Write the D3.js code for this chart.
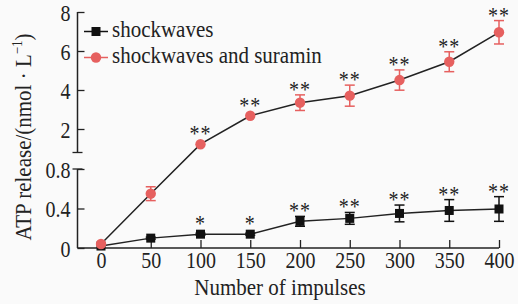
<!DOCTYPE html>
<html>
<head>
<meta charset="utf-8">
<script src="https://cdn.jsdelivr.net/npm/d3@7"></script>
<style>
  body { margin: 0; background: #fff; }
  svg text { font-family: "Liberation Serif", "DejaVu Serif", serif; fill: #222; }
</style>
</head>
<body>
<div id="chart"></div>
<script>
// data
const impulses = [0, 50, 100, 150, 200, 250, 300, 350, 400];
const shockwaves = [0.02, 0.10, 0.14, 0.14, 0.27, 0.30, 0.35, 0.38, 0.395];
const shockwavesErr = [0, 0.01, 0.01, 0.01, 0.05, 0.06, 0.085, 0.11, 0.125];
const shockwavesStars = ["", "", "*", "*", "**", "**", "**", "**", "**"];
const suramin = [0.04, 0.55, 1.22, 2.68, 3.35, 3.71, 4.51, 5.45, 6.96];
const suraminErr = [0, 0.07, 0, 0, 0.4, 0.54, 0.52, 0.51, 0.6];
const suraminStars = ["", "", "**", "**", "**", "**", "**", "**", "**"];
const lowerTicks = [0, 0.4, 0.8];
const upperTicks = [2, 4, 6, 8];
const xTicks = [0, 50, 100, 150, 200, 250, 300, 350, 400];

const width = 530, height = 304;
const axisX = 77.5;
const red = "#e6605f";
const serif = "'Liberation Serif', 'DejaVu Serif', serif";
const stretch = 1.13; // the original type is a bit taller than it is wide

const svg = d3.select("#chart").append("svg")
    .attr("width", width)
    .attr("height", height)
    .attr("font-family", serif);

svg.append("rect").attr("width", 518).attr("height", height).attr("fill", "#fafafa");

// scales: broken y axis, two linear pieces
const x = d3.scaleLinear().domain([0, 400]).range([101, 499]);
const yLow = d3.scaleLinear().domain([0, 0.8]).range([248, 169]);
const yUp = d3.scaleLinear().domain([2, 8]).range([129, 12]);
const y = v => v <= 0.8 ? yLow(v) : yUp(v);

// x axis
const xAxis = svg.append("g")
    .attr("transform", "translate(0,248)")
    .call(d3.axisBottom(x).tickValues(xTicks).tickFormat(d => d)
        .tickSizeInner(-8).tickSizeOuter(0));
xAxis.attr("font-family", serif);
xAxis.select(".domain").remove();
xAxis.selectAll("line").attr("stroke", "#222").attr("stroke-width", 1.3);
xAxis.selectAll("text")
    .attr("font-size", 20).attr("fill", "#222")
    .attr("y", 0).attr("dy", 0)
    .attr("transform", `translate(0,20) scale(1,${stretch})`);
svg.append("line")
    .attr("x1", axisX).attr("x2", x(400))
    .attr("y1", 248).attr("y2", 248)
    .attr("stroke", "#222").attr("stroke-width", 1.5);

// y axes
function yAxisPart(scale, ticks, top, bottom) {
    const g = svg.append("g")
        .attr("transform", `translate(${axisX},0)`)
        .call(d3.axisLeft(scale).tickValues(ticks).tickFormat(d => d)
            .tickSizeInner(-7).tickSizeOuter(0).tickPadding(7));
    g.attr("font-family", serif);
    g.select(".domain").remove();
    g.selectAll("line").attr("stroke", "#222").attr("stroke-width", 1.3);
    g.selectAll("text")
        .attr("font-size", 20).attr("fill", "#222")
        .attr("dy", 0)
        .attr("transform", `translate(0,8) scale(1,${stretch})`);
    svg.append("line")
        .attr("x1", axisX).attr("x2", axisX)
        .attr("y1", top).attr("y2", bottom)
        .attr("stroke", "#222").attr("stroke-width", 1.5);
}
yAxisPart(yLow, lowerTicks, 169, 248);
yAxisPart(yUp, upperTicks, 12, 152.5);
// break caps
svg.append("line").attr("x1", axisX - 5).attr("x2", axisX + 5)
    .attr("y1", 152.5).attr("y2", 152.5).attr("stroke", "#222").attr("stroke-width", 1.3);
svg.append("line").attr("x1", axisX - 5).attr("x2", axisX + 5)
    .attr("y1", 169).attr("y2", 169).attr("stroke", "#222").attr("stroke-width", 1.3);

// axis titles
svg.append("text")
    .attr("transform", `translate(280,295) scale(1,${stretch})`)
    .attr("text-anchor", "middle")
    .attr("font-size", 21)
    .text("Number of impulses");

const yt = svg.append("text")
    .attr("transform", `translate(31,137) rotate(-90) scale(1,${stretch})`)
    .attr("text-anchor", "middle")
    .attr("font-size", 21);
yt.append("tspan").text("ATP release/(nmol · L");
yt.append("tspan").attr("font-size", 13).attr("dy", -8).text("−1");
yt.append("tspan").attr("dy", 8).text(")");

// series
function drawSeries(values, errs, stars, color, marker) {
    const pts = impulses.map((d, i) => ({ x: d, v: values[i], e: errs[i], s: stars[i] }));
    const g = svg.append("g");

    g.append("path")
        .datum(pts)
        .attr("fill", "none")
        .attr("stroke", "#222")
        .attr("stroke-width", 1.5)
        .attr("d", d3.line().x(d => x(d.x)).y(d => y(d.v)));

    const eb = g.selectAll(".err").data(pts.filter(d => d.e > 0)).join("g")
        .attr("stroke", color).attr("stroke-width", 1.5);
    eb.append("line")
        .attr("x1", d => x(d.x)).attr("x2", d => x(d.x))
        .attr("y1", d => y(d.v + d.e)).attr("y2", d => y(d.v - d.e));
    eb.append("line")
        .attr("x1", d => x(d.x) - 5).attr("x2", d => x(d.x) + 5)
        .attr("y1", d => y(d.v + d.e)).attr("y2", d => y(d.v + d.e));
    eb.append("line")
        .attr("x1", d => x(d.x) - 5).attr("x2", d => x(d.x) + 5)
        .attr("y1", d => y(d.v - d.e)).attr("y2", d => y(d.v - d.e));

    if (marker === "square") {
        g.selectAll(".m").data(pts).join("rect")
            .attr("x", d => x(d.x) - 4.5).attr("y", d => y(d.v) - 4.5)
            .attr("width", 9).attr("height", 9)
            .attr("fill", color);
    } else {
        g.selectAll(".m").data(pts).join("circle")
            .attr("cx", d => x(d.x)).attr("cy", d => y(d.v))
            .attr("r", 5.2)
            .attr("fill", color);
    }

    g.selectAll(".star").data(pts.filter(d => d.s)).join("text")
        .attr("transform", d =>
            `translate(${x(d.x)},${Math.min(y(d.v + d.e), y(d.v) - 5) + 2}) scale(1,${stretch})`)
        .attr("text-anchor", "middle")
        .attr("font-size", 20)
        .attr("letter-spacing", 1)
        .attr("fill", "#333")
        .text(d => d.s);
}
drawSeries(shockwaves, shockwavesErr, shockwavesStars, "#111", "square");
drawSeries(suramin, suraminErr, suraminStars, red, "circle");

// legend
const legend = [
    { name: "shockwaves", color: "#111", line: "#111", marker: "square", y: 31.5 },
    { name: "shockwaves and suramin", color: red, line: red, marker: "circle", y: 57.5 }
];
legend.forEach(l => {
    svg.append("line").attr("x1", 84).attr("x2", 108)
        .attr("y1", l.y).attr("y2", l.y)
        .attr("stroke", l.line).attr("stroke-width", 1.5);
    if (l.marker === "square") {
        svg.append("rect").attr("x", 96 - 4.5).attr("y", l.y - 4.5)
            .attr("width", 9).attr("height", 9).attr("fill", l.color);
    } else {
        svg.append("circle").attr("cx", 96).attr("cy", l.y).attr("r", 5.2).attr("fill", l.color);
    }
    svg.append("text")
        .attr("transform", `translate(112,${l.y + 5.5}) scale(1,${stretch})`)
        .attr("font-size", 21)
        .text(l.name);
});
</script>
</body>
</html>
